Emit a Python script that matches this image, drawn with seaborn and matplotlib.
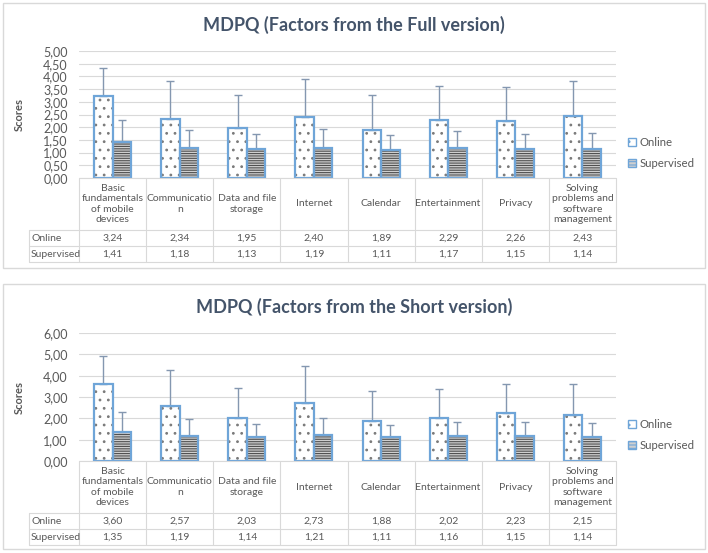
import numpy as np
import pandas as pd
import matplotlib.pyplot as plt
import matplotlib.transforms as mtransforms
import seaborn as sns
from matplotlib.patches import Rectangle, Patch
from matplotlib.lines import Line2D
from matplotlib.ticker import FuncFormatter

# data
factors = ['Basic', 'Communication', 'Data', 'Internet', 'Calendar',
           'Entertainment', 'Privacy', 'Solving']
factor_labels = ['Basic\nfundamentals\nof mobile\ndevices', 'Communicatio\nn',
                 'Data and file\nstorage', 'Internet', 'Calendar',
                 'Entertainment', 'Privacy',
                 'Solving\nproblems and\nsoftware\nmanagement']
groups = ['Online', 'Supervised']

full_online = [3.24, 2.34, 1.95, 2.40, 1.89, 2.29, 2.26, 2.43]
full_supervised = [1.41, 1.18, 1.13, 1.19, 1.11, 1.17, 1.15, 1.14]
full_online_sd = [1.08, 1.49, 1.31, 1.49, 1.37, 1.32, 1.33, 1.38]
full_supervised_sd = [0.88, 0.70, 0.62, 0.73, 0.60, 0.69, 0.60, 0.65]

short_online = [3.60, 2.57, 2.03, 2.73, 1.88, 2.02, 2.23, 2.15]
short_supervised = [1.35, 1.19, 1.14, 1.21, 1.11, 1.16, 1.15, 1.14]
short_online_sd = [1.34, 1.71, 1.41, 1.74, 1.39, 1.36, 1.38, 1.46]
short_supervised_sd = [0.95, 0.79, 0.61, 0.79, 0.59, 0.68, 0.68, 0.66]

sns.set_theme(style='white')
plt.rcParams['font.family'] = ['Lato', 'DejaVu Sans']
plt.rcParams['hatch.linewidth'] = 0.8

W, H = 708, 553
BLUE = '#6FA5D8'
GRID = '#D9D9D9'
TXT = '#595959'
ERR = '#8497B0'

fig = plt.figure(figsize=(W / 100, H / 100), dpi=100)


def fx(x):
    return x / W


def fy(y):
    return 1 - y / H


def comma(v, pos=None):
    return f'{v:.2f}'.replace('.', ',')


def style_bars(ax, container, kind):
    for p in container:
        if kind == 'Online':
            p.set_facecolor('white')
            p.set_hatch('..')
            p.set_edgecolor('#7A7A7A')
        else:
            p.set_facecolor('#CFCFCF')
            p.set_hatch('-------')
            p.set_edgecolor('#505050')
        p.set_linewidth(0)
        ax.add_patch(Rectangle(p.get_xy(), p.get_width(), p.get_height(),
                               fill=False, edgecolor=BLUE, lw=1.6, zorder=4))


def draw_panel(box_top, box_bottom, ax_top, ax_bottom, title, title_y,
               online, supervised, online_sd, supervised_sd, ymax, step, legend_y):
    # chart border
    fig.add_artist(Rectangle((fx(3), fy(box_bottom)), fx(702), (box_bottom - box_top) / H,
                             transform=fig.transFigure, fill=False,
                             edgecolor=GRID, lw=1))

    ax = fig.add_axes([fx(79), fy(ax_bottom), fx(616) - fx(79), (ax_bottom - ax_top) / H])
    df = pd.DataFrame({'Factor': factors * 2,
                       'Group': ['Online'] * 8 + ['Supervised'] * 8,
                       'Score': online + supervised})
    sns.barplot(data=df, x='Factor', y='Score', hue='Group', order=factors,
                hue_order=groups, width=0.55, errorbar=None, legend=False, ax=ax)

    for cont, kind, sd in zip(ax.containers, groups, [online_sd, supervised_sd]):
        style_bars(ax, cont, kind)
        xs = [p.get_x() + p.get_width() / 2 for p in cont]
        ys = [p.get_height() for p in cont]
        ax.errorbar(xs, ys, yerr=[np.zeros(len(sd)), sd], fmt='none',
                    ecolor=ERR, elinewidth=1, capsize=3, capthick=1, zorder=3)

    ax.set_xlim(-0.5, 7.5)
    ax.set_ylim(0, ymax)
    ax.set_yticks(np.arange(0, ymax + 0.001, step))
    ax.yaxis.set_major_formatter(FuncFormatter(comma))
    ax.yaxis.grid(True, color=GRID, lw=0.8)
    ax.set_axisbelow(True)
    for s in ax.spines.values():
        s.set_visible(False)
    ax.tick_params(left=False, bottom=False, labelbottom=False,
                   labelsize=9, labelcolor=TXT, pad=2)
    ax.set_xlabel('')
    ax.set_ylabel('Scores', fontsize=8, fontweight='bold', color=TXT)
    ax.yaxis.set_label_coords((25 - 79) / 537, 0.5)

    # title
    fig.text(fx(354), fy(title_y), title, ha='center', va='center',
             fontsize=13, fontweight='bold', color='#44546A')

    # data table
    cat_bottom = ax_bottom + 52
    on_bottom = cat_bottom + 16
    sup_bottom = on_bottom + 16
    tr = mtransforms.blended_transform_factory(ax.transData, fig.transFigure)
    ft = fig.transFigure
    fig.add_artist(Line2D([fx(79), fx(616)], [fy(ax_bottom)] * 2, transform=ft, color=GRID, lw=0.8))
    for yy in [cat_bottom, on_bottom, sup_bottom]:
        fig.add_artist(Line2D([fx(29), fx(616)], [fy(yy)] * 2, transform=ft, color=GRID, lw=0.8))
    fig.add_artist(Line2D([fx(29)] * 2, [fy(cat_bottom), fy(sup_bottom)], transform=ft, color=GRID, lw=0.8))
    for i in range(9):
        fig.add_artist(Line2D([i - 0.5] * 2, [fy(ax_bottom), fy(sup_bottom)], transform=tr,
                              color=GRID, lw=0.8))
    for i, lab in enumerate(factor_labels):
        fig.text(i, fy((ax_bottom + cat_bottom) / 2), lab, transform=tr, ha='center',
                 va='center', fontsize=7.5, color=TXT, linespacing=1.2)
        fig.text(i, fy((cat_bottom + on_bottom) / 2), comma(online[i]), transform=tr,
                 ha='center', va='center', fontsize=7.5, color=TXT)
        fig.text(i, fy((on_bottom + sup_bottom) / 2), comma(supervised[i]), transform=tr,
                 ha='center', va='center', fontsize=7.5, color=TXT)
    fig.text(fx(31), fy((cat_bottom + on_bottom) / 2), 'Online', ha='left', va='center',
             fontsize=7.5, color=TXT)
    fig.text(fx(31), fy((on_bottom + sup_bottom) / 2), 'Supervised', ha='left', va='center',
             fontsize=7.5, color=TXT)

    # legend
    handles = [Patch(facecolor='white', edgecolor=BLUE, hatch='..', lw=1),
               Patch(facecolor='#CFCFCF', edgecolor=BLUE, hatch='-----', lw=1)]
    fig.legend(handles, groups, loc='center left',
               bbox_to_anchor=(fx(626), fy(legend_y)), frameon=False,
               fontsize=8.2, handlelength=0.7, handleheight=0.7,
               handletextpad=0.3, labelspacing=0.8, labelcolor=TXT,
               borderaxespad=0, borderpad=0.2)


draw_panel(3, 268, 51, 178, 'MDPQ (Factors from the Full version)', 25,
           full_online, full_supervised, full_online_sd, full_supervised_sd,
           5, 0.5, 153)
draw_panel(284, 549, 333, 461, 'MDPQ (Factors from the Short version)', 307,
           short_online, short_supervised, short_online_sd, short_supervised_sd,
           6, 1, 435)

fig.savefig('out.png', dpi=100)
